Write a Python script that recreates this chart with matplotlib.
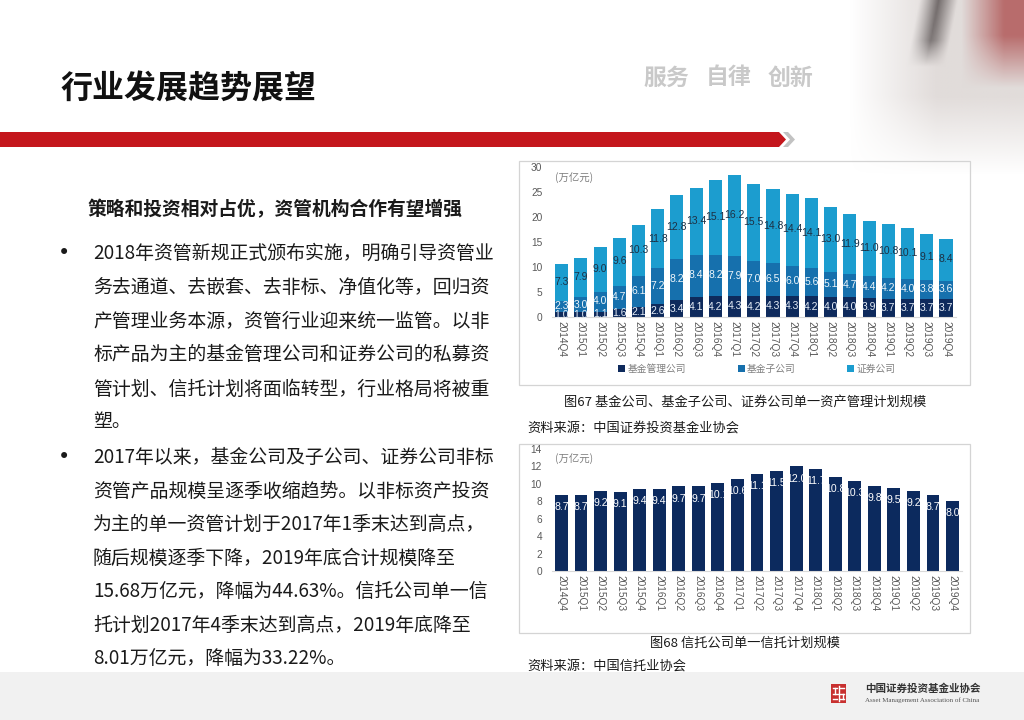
import matplotlib
matplotlib.use('Agg')
import matplotlib.pyplot as plt
import numpy as np
from matplotlib.patches import Rectangle, Polygon

plt.rcParams['font.family'] = ['Noto Sans CJK SC', 'DejaVu Sans']

# ---------------- data ----------------
quarters = ['2014Q4', '2015Q1', '2015Q2', '2015Q3', '2015Q4', '2016Q1', '2016Q2',
            '2016Q3', '2016Q4', '2017Q1', '2017Q2', '2017Q3', '2017Q4', '2018Q1',
            '2018Q2', '2018Q3', '2018Q4', '2019Q1', '2019Q2', '2019Q3', '2019Q4']
fund_mgmt = [1.0, 1.0, 1.1, 1.6, 2.1, 2.6, 3.4, 4.1, 4.2, 4.3, 4.2,
             4.3, 4.3, 4.2, 4.0, 4.0, 3.9, 3.7, 3.7, 3.7, 3.7]
fund_sub = [2.3, 3.0, 4.0, 4.7, 6.1, 7.2, 8.2, 8.4, 8.2, 7.9, 7.0,
            6.5, 6.0, 5.6, 5.1, 4.7, 4.4, 4.2, 4.0, 3.8, 3.6]
securities = [7.3, 7.9, 9.0, 9.6, 10.3, 11.8, 12.8, 13.4, 15.1, 16.2, 15.5,
              14.8, 14.4, 14.1, 13.0, 11.9, 11.0, 10.8, 10.1, 9.1, 8.4]
trust_single = [8.7, 8.7, 9.2, 9.1, 9.4, 9.4, 9.7, 9.7, 10.1, 10.6, 11.1,
                11.5, 12.0, 11.7, 10.8, 10.3, 9.8, 9.5, 9.2, 8.7, 8.0]
series_names = ['基金管理公司', '基金子公司', '证券公司']
yticks_top = [0, 5, 10, 15, 20, 25, 30]
yticks_bottom = [0, 2, 4, 6, 8, 10, 12, 14]

para1 = ['2018年资管新规正式颁布实施，明确引导资管业',
         '务去通道、去嵌套、去非标、净值化等，回归资',
         '产管理业务本源，资管行业迎来统一监管。以非',
         '标产品为主的基金管理公司和证券公司的私募资',
         '管计划、信托计划将面临转型，行业格局将被重',
         '塑。']
para2 = ['2017年以来，基金公司及子公司、证券公司非标',
         '资管产品规模呈逐季收缩趋势。以非标资产投资',
         '为主的单一资管计划于2017年1季末达到高点，',
         '随后规模逐季下降，2019年底合计规模降至',
         '15.68万亿元，降幅为44.63%。信托公司单一信',
         '托计划2017年4季末达到高点，2019年底降至',
         '8.01万亿元，降幅为33.22%。']

# ---------------- figure ----------------
W, H = 1024, 720
fig = plt.figure(figsize=(10.24, 7.2), dpi=100)
fig.patch.set_facecolor('white')


def fx(x):
    return x / W


def fy(y):
    return 1 - y / H


def ptext(x, y, s, **kw):
    kw.setdefault('va', 'center')
    fig.text(fx(x), fy(y), s, **kw)


# background decoration axes (pixel coordinates)
bg = fig.add_axes([0, 0, 1, 1])
bg.set_xlim(0, W)
bg.set_ylim(H, 0)
bg.axis('off')

# top-right photo-like decoration (soft)
nu, nv = 160, 140
u = np.linspace(0, 1, nu)[None, :]
v = np.linspace(0, 1, nv)[:, None]
base = np.array([222, 216, 214], float) / 255
red = np.array([168, 70, 70], float) / 255
dark = np.array([70, 62, 62], float) / 255
rw = np.clip((u - 0.68) / 0.22, 0, 1) * np.clip((0.5 - v) / 0.3, 0, 1) * 0.85
centre = 0.56 - 0.18 * v
dw = np.clip(1 - np.abs(u - centre) / 0.1, 0, 1) * np.clip((0.38 - v) / 0.15, 0, 1) * 0.8
img = np.zeros((nv, nu, 4))
for c in range(3):
    img[..., c] = base[c] * (1 - rw) + red[c] * rw
    img[..., c] = img[..., c] * (1 - dw) + dark[c] * dw
alpha = np.clip((u - 0.1) / 0.45, 0, 1) * np.clip((1 - v) / 0.45, 0, 1) * 0.9
img[..., 3] = alpha
bg.imshow(img, extent=(830, 1024, 175, 0), aspect='auto', interpolation='bilinear', zorder=1)

# red band with chevron
bg.add_patch(Polygon([(0, 132), (779, 132), (786, 139.5), (779, 147), (0, 147)],
                     closed=True, facecolor='#c4161c', edgecolor='none', zorder=2))
bg.add_patch(Polygon([(783, 132), (788, 132), (795, 139.5), (788, 147), (783, 147), (790, 139.5)],
                     closed=True, facecolor='#c2c2c2', edgecolor='none', zorder=2))

# bottom grey band
bg.add_patch(Rectangle((0, 672), W, 48, facecolor='#f1f1f1', edgecolor='none', zorder=1))

# chart frames
bg.add_patch(Rectangle((519, 161), 451, 224, facecolor='none', edgecolor='#d4d4d4', lw=0.9, zorder=2))
bg.add_patch(Rectangle((519, 444), 451, 189, facecolor='none', edgecolor='#d4d4d4', lw=0.9, zorder=2))

# logo icon
bg.add_patch(Rectangle((831, 684), 15, 19, facecolor='#c8302f', edgecolor='none', zorder=3))
for (x0, y0, x1, y1) in [(838.5, 686, 838.5, 701), (833, 688, 837, 688), (840, 688, 844, 688),
                         (833, 693.5, 844, 693.5), (833, 699, 837, 699), (840, 699, 844, 699),
                         (834.5, 688, 834.5, 693.5), (842.5, 693.5, 842.5, 699)]:
    bg.plot([x0, x1], [y0, y1], color='white', lw=1.0, zorder=4)

# ---------------- header text ----------------
ptext(60, 90, '行业发展趋势展望', fontsize=23, fontweight='bold', color='#111111')
for xx, word in [(643, '服务'), (706, '自律'), (768, '创新')]:
    ptext(xx, 78, word, fontsize=16.5, fontweight='bold', color='#c9c9c9')

# ---------------- left text ----------------
ptext(88, 210, '策略和投资相对占优，资管机构合作有望增强', fontsize=13.5, fontweight='bold', color='#1a1a1a')
ys1 = [253, 287, 321, 355, 389, 422]
ys2 = [457, 491, 524, 558, 591, 625, 658]
ptext(64, ys1[0], '•', fontsize=15, color='#1a1a1a', ha='center', family=['DejaVu Sans'])
ptext(64, ys2[0], '•', fontsize=15, color='#1a1a1a', ha='center', family=['DejaVu Sans'])
for yy, line in zip(ys1, para1):
    ptext(93, yy, line, fontsize=13.6, color='#1a1a1a')
for yy, line in zip(ys2, para2):
    ptext(93, yy, line, fontsize=13.6, color='#1a1a1a')

# ---------------- top chart ----------------
num_font = ['Liberation Sans', 'DejaVu Sans']
c1, c2, c3 = '#0e2a5c', '#1670ad', '#1c9dcf'
x = np.arange(len(quarters))
fm = np.array(fund_mgmt)
fs = np.array(fund_sub)
se = np.array(securities)

ax1 = fig.add_axes([fx(552), fy(317), (955.6 - 552) / W, 150 / H])
b1 = ax1.bar(x, fm, width=0.68, color=c1, label=series_names[0])
b2 = ax1.bar(x, fs, bottom=fm, width=0.68, color=c2, label=series_names[1])
b3 = ax1.bar(x, se, bottom=fm + fs, width=0.68, color=c3, label=series_names[2])
for bars, col in [(b1, '#e6eef8'), (b2, '#eef6fb'), (b3, '#1d3044')]:
    ax1.bar_label(bars, fmt='%.1f', label_type='center', color=col, fontsize=7.5,
                  family=num_font)
ax1.set_xlim(-0.5, len(quarters) - 0.5)
ax1.set_ylim(0, 30)
ax1.set_yticks(yticks_top)
ax1.set_xticks(x)
ax1.set_xticklabels(quarters, rotation=-90, ha='center', va='top')
for sp in ['top', 'right', 'left']:
    ax1.spines[sp].set_visible(False)
ax1.spines['bottom'].set_color('#d9d9d9')
ax1.spines['bottom'].set_linewidth(0.8)
ax1.tick_params(axis='both', length=0, colors='#595959', labelsize=7.3)
ax1.tick_params(axis='y', pad=7)
ax1.tick_params(axis='x', pad=3)
for lab in ax1.get_xticklabels() + ax1.get_yticklabels():
    lab.set_family(num_font)
ax1.patch.set_alpha(0)
ptext(555, 178, '(万亿元)', fontsize=7.5, color='#7f7f7f')

fig.legend([b1, b2, b3], series_names, loc='center', bbox_to_anchor=(fx(757), fy(369)),
           ncol=3, frameon=False, fontsize=7, handlelength=0.7, handleheight=0.7,
           handletextpad=0.25, columnspacing=5.3, labelcolor='#7f7f7f')

ptext(745, 402, '图67 基金公司、基金子公司、证券公司单一资产管理计划规模', fontsize=9.5,
      color='#1a1a1a', ha='center')
ptext(527, 428, '资料来源：中国证券投资基金业协会', fontsize=9.5, color='#1a1a1a')

# ---------------- bottom chart ----------------
ax2 = fig.add_axes([fx(551.7), fy(571), (962.3 - 551.7) / W, 122 / H])
bt = ax2.bar(x, trust_single, width=0.66, color='#0c2a5e')
for xi, val in zip(x, trust_single):
    ax2.annotate(f'{val:.1f}', (xi, val), xytext=(0, -8.7), textcoords='offset points',
                 ha='center', va='center', color='white', fontsize=7.6, family=num_font)
ax2.set_xlim(-0.5, len(quarters) - 0.5)
ax2.set_ylim(0, 14)
ax2.set_yticks(yticks_bottom)
ax2.set_xticks(x)
ax2.set_xticklabels(quarters, rotation=-90, ha='center', va='top')
for sp in ['top', 'right', 'left']:
    ax2.spines[sp].set_visible(False)
ax2.spines['bottom'].set_color('#d9d9d9')
ax2.spines['bottom'].set_linewidth(0.8)
ax2.tick_params(axis='both', length=0, colors='#595959', labelsize=7.3)
ax2.tick_params(axis='y', pad=7)
ax2.tick_params(axis='x', pad=3)
for lab in ax2.get_xticklabels() + ax2.get_yticklabels():
    lab.set_family(num_font)
ax2.patch.set_alpha(0)
ptext(555, 459, '(万亿元)', fontsize=7.5, color='#7f7f7f')

ptext(745, 643, '图68 信托公司单一信托计划规模', fontsize=9.5, color='#1a1a1a', ha='center')
ptext(527, 666, '资料来源：中国信托业协会', fontsize=9.5, color='#1a1a1a')

# logo text
ptext(865, 689, '中国证券投资基金业协会', fontsize=7.6, fontweight='bold', color='#333333')
ptext(865, 700, 'Asset Management Association of China', fontsize=5.0, color='#555555',
      family=['Liberation Serif', 'DejaVu Serif'])

fig.savefig('out.png', dpi=100, facecolor='white')
